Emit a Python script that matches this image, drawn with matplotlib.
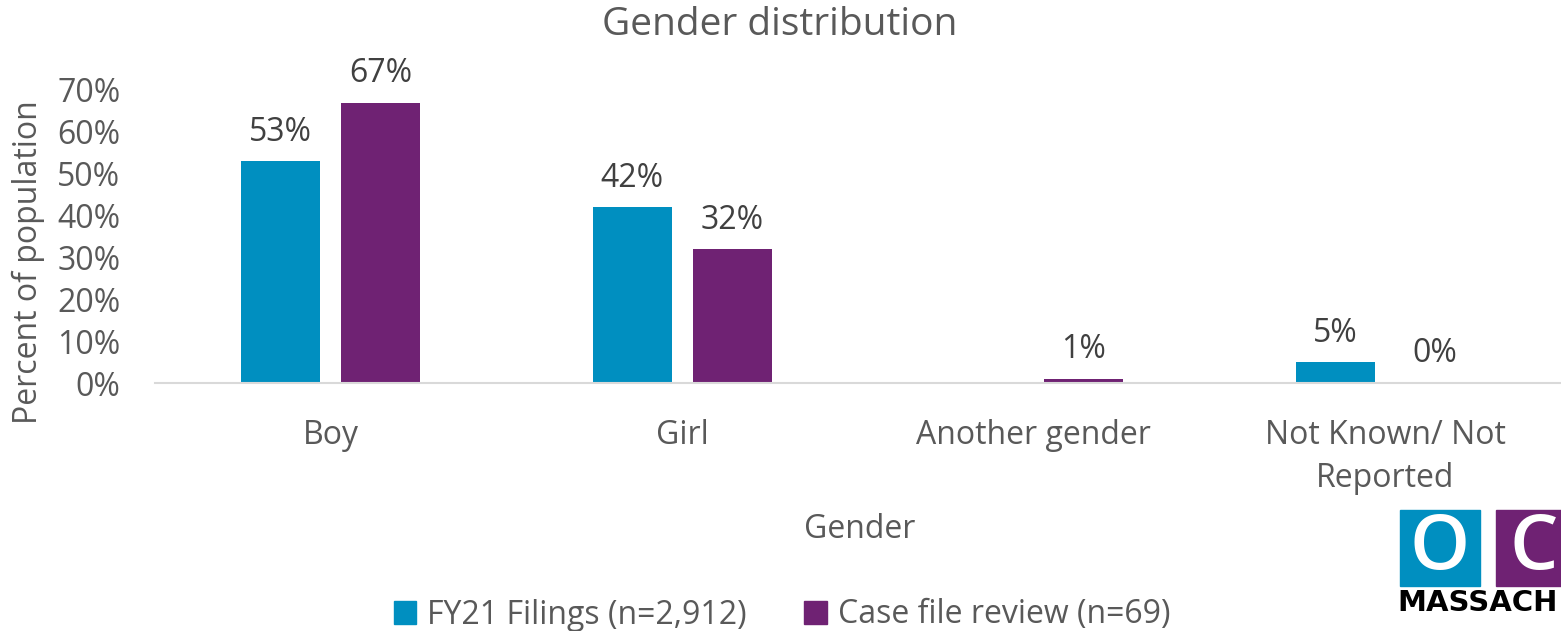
import matplotlib
matplotlib.use("Agg")
import matplotlib.pyplot as plt
import numpy as np
from matplotlib.patches import Rectangle

categories = ["Boy", "Girl", "Another gender", "Not Known/ Not\nReported"]
series_names = ["FY21 Filings (n=2,912)", "Case file review (n=69)"]
fy21 = [0.53, 0.42, np.nan, 0.05]
case_review = [0.67, 0.32, 0.01, 0.00]
yticks = [0, 0.1, 0.2, 0.3, 0.4, 0.5, 0.6, 0.7]

colors = ["#008FC0", "#6F2273"]
txt = "#595959"
plt.rcParams['font.family'] = ['Open Sans', 'DejaVu Sans']
FS = 23

W, H = 1561, 631
fig = plt.figure(figsize=(W/100, H/100), dpi=100)
ax = fig.add_axes([155/W, (H-383)/H, 1406/W, (383-90)/H])

x = np.arange(len(categories))
w = 0.224
off = 0.142
for vals, dx, c in [(fy21, -off, colors[0]), (case_review, off, colors[1])]:
    for xi, v in zip(x, vals):
        if np.isnan(v):
            continue
        ax.bar(xi + dx, v, width=w, color=c)
        ax.annotate(f"{v*100:.0f}%", (xi + dx, v), xytext=(0, 9), textcoords="offset points",
                    ha="center", va="bottom", fontsize=FS, color="#404040")

ax.set_xlim(-0.5, len(categories) - 0.5)
ax.set_ylim(0, 0.7)
ax.set_yticks(yticks)
ax.set_yticklabels([f"{t*100:.0f}%" for t in yticks], fontsize=FS, color=txt)
ax.set_xticks(x)
ax.set_xticklabels(categories, fontsize=FS, color=txt, linespacing=1.38)
ax.tick_params(axis='y', length=0, pad=25)
ax.tick_params(axis='x', length=0, pad=26)
for s in ["top", "right", "left"]:
    ax.spines[s].set_visible(False)
ax.spines["bottom"].set_color("#D9D9D9")
ax.spines["bottom"].set_linewidth(1.5)

fig.text(780/W, 1 - 25/H, "Gender distribution", ha="center", va="center", fontsize=28, color=txt)
fig.text(28/W, 1 - 262/H, "Percent of population", rotation=90, ha="center", va="center", fontsize=FS, color=txt)
fig.text(860/W, 1 - 530/H, "Gender", ha="center", va="center", fontsize=FS, color=txt)

# legend
handles = [Rectangle((0, 0), 1, 1, color=c) for c in colors]
fig.legend(handles, series_names, loc="center", bbox_to_anchor=(782/W, 1 - 615/H), ncol=2,
           frameon=False, fontsize=FS, labelcolor=txt, handlelength=0.7, handleheight=0.7,
           handletextpad=0.35, columnspacing=1.8)

# logo
fig.patches.append(Rectangle((1400/W, 1 - 586/H), 80/W, 76/H, transform=fig.transFigure, color="#008FC0"))
fig.patches.append(Rectangle((1496/W, 1 - 586/H), 70/W, 76/H, transform=fig.transFigure, color="#6F2273"))
fig.text(1440/W, 1 - 549/H, "O", ha="center", va="center", fontsize=55, color="white",
         family=["Liberation Sans Narrow", "Open Sans"], fontweight="semibold")
fig.text(1534/W, 1 - 549/H, "C", ha="center", va="center", fontsize=55, color="white",
         family=["Liberation Sans Narrow", "Open Sans"], fontweight="semibold")
fig.text(1397/W, 1 - 603/H, "MASSACH", ha="left", va="center", fontsize=21, fontweight="bold",
         color="black", family=["DejaVu Sans"])

fig.savefig("out.png", dpi=100)
